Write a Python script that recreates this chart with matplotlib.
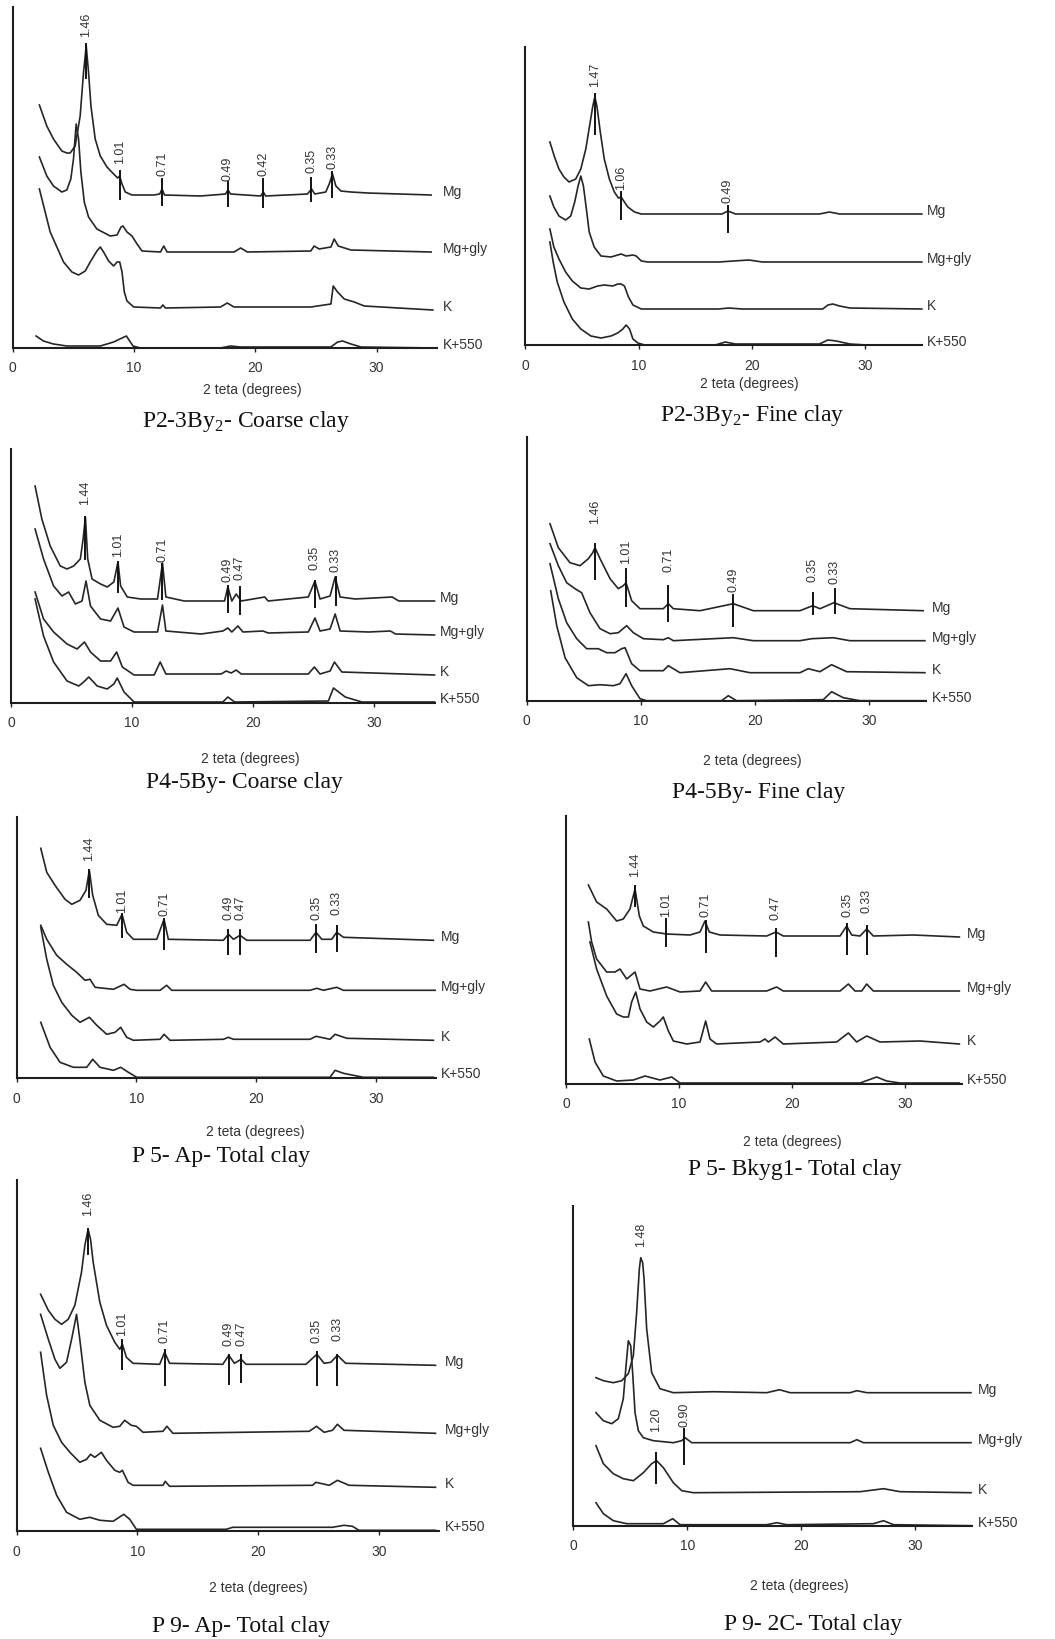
import matplotlib
matplotlib.use("Agg")
import matplotlib.pyplot as plt

plt.rcParams["font.family"] = ["Liberation Sans", "DejaVu Sans"]
plt.rcParams["mathtext.fontset"] = "custom"
plt.rcParams["mathtext.rm"] = "Liberation Serif"

W, H = 1055, 1640

# ------------------------------------------------------------
# Data: (2 theta, relative intensity)
# ------------------------------------------------------------
CURVE_NAMES = ["Mg", "Mg+gly", "K", "K+550"]

# P2-3By2 coarse clay
P1_MG = [(2.20, 243), (2.81, 222), (3.36, 209), (4.05, 197), (4.46, 195), (4.74, 195), (5.15, 202),
         (5.56, 232), (5.84, 276), (6.06, 302), (6.25, 276), (6.45, 242), (6.80, 209), (7.22, 192),
         (7.77, 181), (8.32, 174), (8.65, 170), (8.82, 172), (9.01, 164), (9.28, 156), (9.83, 153),
         (11.63, 153), (12.12, 154), (12.31, 159), (12.51, 153), (15.48, 152), (17.55, 154),
         (17.74, 158), (17.96, 154), (20.44, 152), (20.66, 156), (20.85, 152), (24.30, 154),
         (24.63, 159), (24.90, 154), (25.81, 156), (26.09, 164), (26.36, 174), (26.64, 162),
         (27.05, 157), (27.88, 156), (29.26, 155), (34.49, 153)]
P1_GLY = [(2.20, 191), (2.81, 172), (3.36, 162), (4.05, 156), (4.46, 158), (4.79, 169), (5.01, 189),
          (5.23, 224), (5.43, 209), (5.62, 176), (5.90, 146), (6.25, 131), (6.94, 119), (8.04, 112),
          (8.60, 113), (8.93, 121), (9.09, 122), (9.42, 116), (9.83, 112), (10.25, 104), (10.66, 97),
          (12.18, 96), (12.45, 102), (12.73, 96), (18.24, 96), (18.79, 100), (19.34, 96), (24.57, 97),
          (24.85, 102), (25.26, 99), (26.23, 101), (26.50, 109), (26.83, 102), (27.88, 98), (34.49, 96)]
P1_K = [(2.20, 159), (3.09, 116), (4.19, 86), (4.88, 76), (5.43, 73), (5.98, 77), (6.39, 86), (6.94, 97),
        (7.22, 101), (7.49, 96), (7.91, 87), (8.32, 82), (8.60, 86), (8.82, 86), (9.01, 76), (9.20, 56),
        (9.42, 47), (9.97, 41), (12.18, 40), (12.37, 43), (12.59, 40), (17.13, 41), (17.69, 45),
        (18.24, 41), (24.57, 41), (26.23, 44), (26.42, 62), (26.78, 56), (27.33, 49), (28.15, 46),
        (28.98, 42), (34.63, 38)]
P1_K550 = [(1.93, 12), (2.53, 7), (3.36, 4), (4.46, 2), (7.22, 2), (8.32, 6), (9.01, 10), (9.37, 12),
           (9.64, 7), (9.92, 2), (10.52, 0), (17.13, 0), (17.96, 2), (18.79, 1), (26.23, 1), (26.78, 6),
           (27.19, 7), (27.88, 4), (28.71, 1), (34.77, 0)]
# (label, 2 theta, line bottom, line top, label base)
P1_PEAKS = [("1.46", 6.06, 270, 304, 312), ("1.01", 8.82, 149, 177, 185), ("0.71", 12.31, 143, 169, 173),
            ("0.49", 17.74, 142, 166, 168), ("0.42", 20.66, 141, 169, 173), ("0.35", 24.63, 147, 170, 176),
            ("0.33", 26.36, 151, 176, 180)]

# P2-3By2 fine clay
P2_MG = [(2.17, 203), (2.58, 188), (2.97, 176), (3.41, 168), (3.86, 163), (4.45, 166), (4.90, 176),
         (5.34, 196), (5.73, 223), (5.96, 239), (6.14, 248), (6.32, 239), (6.62, 213), (6.97, 186),
         (7.42, 166), (7.86, 153), (8.22, 147), (8.46, 148), (8.69, 144), (9.05, 138), (9.64, 133),
         (10.24, 131), (17.36, 131), (17.89, 134), (18.55, 131), (25.96, 131), (26.85, 133),
         (27.74, 131), (35.0, 131)]
P2_GLY = [(2.17, 149), (2.52, 138), (2.97, 129), (3.56, 125), (4.01, 129), (4.36, 143), (4.66, 159),
          (4.90, 169), (5.13, 159), (5.37, 138), (5.64, 113), (6.08, 98), (6.68, 89), (7.57, 88),
          (8.16, 90), (8.46, 91), (8.90, 89), (9.50, 90), (9.79, 89), (10.24, 84), (10.83, 83),
          (17.06, 83), (19.73, 85), (20.92, 83), (35.0, 83)]
P2_K = [(2.17, 116), (2.52, 98), (2.97, 86), (3.56, 73), (4.15, 64), (4.90, 57), (5.64, 56), (6.38, 59),
        (6.97, 60), (7.72, 59), (8.16, 61), (8.46, 61), (8.75, 59), (9.11, 48), (9.50, 40), (10.24, 36),
        (17.06, 36), (17.95, 37), (19.14, 36), (26.26, 36), (26.71, 40), (27.15, 41), (27.74, 39),
        (28.64, 37), (35.0, 36)]
P2_K550 = [(2.17, 103), (2.46, 83), (2.82, 63), (3.41, 43), (4.15, 26), (4.90, 16), (5.79, 9), (6.68, 7),
           (7.57, 9), (8.16, 12), (8.61, 16), (8.90, 20), (9.20, 16), (9.50, 6), (9.94, 2), (10.53, 0),
           (16.77, 0), (17.66, 3), (18.55, 1), (25.96, 1), (26.71, 5), (27.45, 4), (28.64, 1),
           (30.12, 0), (35.0, 0)]
P2_PEAKS = [("1.47", 6.14, 211, 251, 259), ("1.06", 8.46, 126, 153, 156), ("0.49", 17.89, 113, 139, 143)]

# P4-5By coarse clay
P3_MG = [(1.99, 217), (2.55, 184), (3.24, 157), (4.07, 137), (4.63, 134), (5.18, 137), (5.73, 144),
         (5.96, 164), (6.15, 186), (6.34, 144), (6.70, 124), (7.40, 119), (7.95, 116), (8.50, 121),
         (8.84, 141), (9.06, 117), (9.61, 106), (10.72, 104), (12.11, 104), (12.52, 140), (12.80, 106),
         (14.32, 102), (17.65, 102), (17.92, 116), (18.25, 102), (18.61, 109), (19.03, 102),
         (20.97, 106), (21.25, 102), (24.57, 106), (25.12, 122), (25.54, 104), (26.37, 107),
         (26.79, 126), (27.20, 106), (28.45, 104), (31.50, 106), (32.05, 102), (35.0, 102)]
P3_GLY = [(1.99, 174), (2.69, 144), (3.52, 117), (4.21, 107), (4.76, 111), (5.32, 99), (5.87, 102),
          (6.20, 122), (6.57, 97), (7.40, 84), (8.23, 82), (8.84, 95), (9.34, 76), (10.17, 71),
          (12.11, 71), (12.52, 98), (12.80, 72), (15.71, 69), (17.51, 72), (17.92, 75), (18.25, 71),
          (18.75, 77), (19.17, 71), (20.83, 72), (21.25, 70), (24.57, 71), (25.12, 85), (25.54, 72),
          (26.37, 74), (26.79, 89), (27.20, 72), (29.56, 71), (31.36, 72), (31.77, 69), (35.0, 68)]
P3_K = [(1.99, 111), (2.69, 84), (3.52, 71), (4.63, 59), (5.46, 54), (6.07, 61), (6.57, 51), (7.40, 42),
        (8.23, 42), (8.73, 51), (9.20, 36), (10.17, 28), (11.83, 28), (12.33, 41), (12.80, 29),
        (17.37, 29), (17.78, 32), (18.20, 30), (18.61, 33), (19.03, 29), (24.57, 29), (25.07, 36),
        (25.54, 29), (26.37, 32), (26.73, 41), (27.34, 31), (35.0, 28)]
P3_K550 = [(1.99, 104), (2.69, 67), (3.52, 41), (4.63, 22), (5.60, 17), (6.01, 21), (6.43, 26),
           (7.12, 17), (7.95, 14), (8.50, 19), (8.78, 25), (9.34, 11), (10.17, 1), (10.72, 1),
           (17.51, 1), (17.92, 6), (18.48, 1), (26.23, 2), (26.65, 15), (27.62, 6), (29.00, 1), (35.0, 1)]
P3_PEAKS = [("1.44", 6.15, 144, 186, 199), ("1.01", 8.84, 111, 141, 147), ("0.71", 12.52, 104, 139, 142),
            ("0.49", 17.92, 91, 117, 122), ("0.47", 18.89, 89, 116, 124), ("0.35", 25.12, 96, 122, 134),
            ("0.33", 26.84, 98, 126, 132)]

# P4-5By fine clay
P4_MG = [(2.04, 177), (2.77, 153), (3.79, 138), (4.67, 135), (5.40, 142), (5.78, 148), (5.98, 153),
         (6.42, 142), (7.30, 122), (8.02, 112), (8.46, 115), (8.70, 118), (9.19, 100), (9.92, 92),
         (11.96, 92), (12.40, 97), (12.84, 92), (15.17, 90), (18.09, 97), (19.84, 90), (23.93, 90),
         (25.04, 95), (25.68, 92), (26.90, 98), (28.30, 92), (34.72, 90)]
P4_GLY = [(2.04, 157), (2.77, 135), (3.50, 118), (4.23, 112), (4.81, 108), (5.54, 88), (6.42, 72),
          (7.30, 67), (8.02, 68), (8.75, 75), (9.34, 68), (10.21, 62), (11.96, 61), (12.40, 63),
          (12.84, 60), (18.09, 63), (19.84, 60), (23.93, 60), (24.95, 62), (26.85, 63), (28.30, 60),
          (34.87, 60)]
P4_K = [(2.04, 137), (2.77, 102), (3.50, 78), (4.38, 62), (5.25, 52), (5.84, 52), (6.27, 52), (7.00, 48),
        (7.73, 48), (8.32, 52), (8.61, 53), (9.19, 37), (9.92, 30), (11.96, 30), (12.40, 35),
        (13.42, 28), (17.80, 32), (19.55, 28), (23.93, 28), (24.66, 32), (25.68, 29), (26.70, 36),
        (28.01, 29), (34.87, 28)]
P4_K550 = [(2.10, 110), (2.63, 75), (3.36, 43), (4.38, 23), (5.40, 15), (6.42, 16), (7.59, 15),
           (8.17, 17), (8.70, 27), (9.19, 15), (9.92, 2), (10.50, 0), (17.07, 0), (17.65, 5),
           (18.38, 0), (25.97, 1), (26.70, 9), (27.72, 3), (29.18, 0), (34.87, 0)]
P4_PEAKS = [("1.46", 5.98, 122, 157, 178), ("1.01", 8.70, 95, 132, 138), ("0.71", 12.40, 80, 115, 130),
            ("0.49", 18.09, 75, 106, 110), ("0.35", 25.04, 87, 108, 120), ("0.33", 26.96, 88, 112, 118)]

# P5 Ap total clay
P5_MG = [(2.01, 230), (2.51, 206), (3.20, 193), (4.04, 179), (4.60, 174), (5.29, 178), (5.79, 188),
         (6.07, 208), (6.35, 183), (6.82, 163), (7.52, 154), (8.36, 153), (8.80, 164), (9.19, 146),
         (9.75, 139), (11.70, 139), (12.31, 159), (12.67, 139), (17.27, 138), (17.69, 144),
         (18.11, 139), (18.66, 143), (19.22, 138), (24.51, 138), (25.01, 146), (25.49, 139),
         (26.32, 139), (26.74, 146), (27.30, 141), (34.82, 138)]
P5_GLY = [(2.01, 153), (2.51, 139), (3.34, 123), (4.18, 114), (5.01, 106), (5.71, 98), (6.13, 99),
          (6.55, 91), (8.08, 89), (8.97, 94), (9.47, 89), (10.03, 88), (11.98, 88), (12.53, 93),
          (12.95, 88), (24.51, 88), (25.07, 90), (25.63, 88), (26.74, 91), (27.30, 88), (34.96, 88)]
P5_K = [(2.01, 151), (2.51, 119), (3.06, 93), (3.76, 76), (4.60, 63), (5.29, 56), (6.07, 61), (6.69, 53),
        (7.52, 44), (8.22, 46), (8.69, 51), (9.19, 41), (9.75, 38), (11.98, 39), (12.31, 44),
        (12.81, 38), (17.27, 39), (17.69, 41), (18.11, 39), (24.51, 39), (25.01, 42), (26.18, 39),
        (26.60, 44), (27.58, 40), (34.82, 38)]
P5_K550 = [(2.01, 56), (2.79, 31), (3.62, 16), (4.74, 11), (5.85, 11), (6.35, 19), (6.96, 11), (8.08, 8),
           (8.69, 11), (9.33, 6), (10.03, 1), (26.18, 1), (26.60, 8), (27.30, 5), (28.13, 3),
           (28.97, 1), (34.82, 1)]
P5_PEAKS = [("1.44", 6.07, 181, 208, 218), ("1.01", 8.83, 141, 164, 166), ("0.71", 12.34, 129, 159, 163),
            ("0.49", 17.69, 124, 148, 159), ("0.47", 18.66, 124, 148, 159), ("0.35", 25.01, 126, 153, 159),
            ("0.33", 26.74, 127, 152, 164)]

# P5 Bkyg1 total clay
P6_MG = [(1.98, 199), (2.71, 182), (3.60, 175), (4.48, 163), (5.07, 165), (5.66, 175), (6.11, 195),
         (6.49, 168), (6.84, 158), (7.73, 152), (8.91, 150), (10.97, 149), (11.86, 152), (12.30, 163),
         (12.68, 152), (13.63, 149), (17.76, 148), (18.58, 152), (19.23, 148), (24.25, 148),
         (24.84, 158), (25.28, 149), (26.02, 148), (26.61, 155), (27.20, 148), (30.74, 149),
         (34.81, 147)]
P6_GLY = [(1.98, 162), (2.27, 142), (2.71, 125), (3.60, 112), (4.34, 112), (4.78, 115), (5.37, 105),
          (6.11, 112), (6.55, 95), (7.43, 93), (8.91, 97), (10.09, 92), (11.86, 93), (12.36, 102),
          (12.89, 93), (17.76, 93), (18.64, 97), (19.23, 93), (24.25, 93), (24.99, 100), (25.58, 93),
          (26.17, 93), (26.61, 100), (27.20, 93), (34.81, 93)]
P6_K = [(2.12, 142), (2.71, 115), (3.60, 88), (4.48, 70), (5.07, 67), (5.52, 67), (5.81, 82), (6.17, 92),
        (6.55, 75), (7.14, 62), (7.73, 57), (8.32, 63), (8.61, 67), (9.06, 53), (9.50, 43), (10.68, 40),
        (11.86, 42), (12.36, 63), (12.74, 45), (13.33, 40), (17.17, 42), (17.61, 45), (17.91, 42),
        (18.50, 47), (19.23, 40), (23.95, 42), (24.99, 51), (25.72, 42), (26.61, 48), (27.79, 42),
        (31.33, 43), (34.81, 40)]
P6_K550 = [(2.06, 45), (2.57, 22), (3.30, 8), (4.48, 3), (5.96, 4), (6.99, 8), (8.32, 4), (9.35, 7),
           (10.09, 1), (26.02, 1), (27.49, 7), (28.38, 3), (29.56, 1), (34.81, 1)]
P6_PEAKS = [("1.44", 6.11, 178, 198, 208), ("1.01", 8.82, 138, 165, 168), ("0.71", 12.36, 132, 163, 168),
            ("0.47", 18.58, 128, 155, 165), ("0.35", 24.90, 130, 160, 168), ("0.33", 26.61, 130, 158, 172)]

# P9 Ap total clay
P7_MG = [(1.98, 237), (2.62, 221), (3.17, 212), (3.72, 207), (4.27, 212), (4.82, 226), (5.37, 259),
         (5.65, 286), (5.92, 302), (6.12, 292), (6.34, 269), (6.89, 229), (7.44, 206), (8.13, 189),
         (8.54, 182), (8.76, 187), (9.09, 174), (9.64, 168), (11.85, 167), (12.26, 179), (12.67, 168),
         (17.08, 167), (17.58, 176), (18.04, 168), (18.60, 172), (19.01, 167), (23.97, 167),
         (24.88, 177), (25.48, 168), (26.03, 169), (26.58, 176), (27.27, 168), (34.71, 166)]
P7_GLY = [(1.98, 217), (2.62, 192), (3.17, 172), (3.58, 163), (4.13, 169), (4.55, 192), (4.96, 217),
          (5.23, 192), (5.65, 149), (6.06, 126), (6.89, 111), (7.99, 104), (8.54, 105), (8.95, 111),
          (9.50, 106), (9.92, 105), (10.47, 99), (12.12, 100), (12.45, 105), (12.95, 98), (24.24, 100),
          (24.85, 105), (25.48, 99), (26.17, 101), (26.58, 107), (27.13, 101), (34.71, 98)]
P7_K = [(1.98, 179), (2.48, 136), (3.03, 106), (3.72, 89), (4.41, 79), (5.23, 69), (5.79, 72), (6.12, 77),
        (6.47, 74), (7.02, 79), (7.44, 71), (8.13, 61), (8.54, 59), (8.76, 61), (9.23, 49), (9.64, 46),
        (12.12, 46), (12.31, 50), (12.67, 45), (24.52, 46), (24.79, 49), (25.90, 46), (26.58, 51),
        (27.55, 46), (34.71, 44)]
P7_K550 = [(1.98, 83), (2.62, 59), (3.31, 36), (4.13, 19), (5.23, 12), (6.06, 14), (6.89, 11), (7.99, 10),
           (8.87, 17), (9.37, 12), (9.92, 2), (17.36, 2), (17.91, 4), (26.17, 4), (27.13, 6),
           (27.82, 5), (28.37, 1), (34.71, 1)]
P7_PEAKS = [("1.46", 5.92, 277, 302, 316), ("1.01", 8.76, 162, 191, 196), ("0.71", 12.26, 146, 181, 189),
            ("0.49", 17.58, 147, 176, 186), ("0.47", 18.60, 149, 176, 186), ("0.35", 24.88, 146, 179, 189),
            ("0.33", 26.58, 146, 176, 191)]

# P9 2C total clay
P8_MG = [(1.99, 148), (2.64, 145), (3.51, 143), (4.25, 145), (4.83, 152), (5.27, 170), (5.56, 213),
         (5.80, 257), (5.92, 268), (6.09, 263), (6.21, 247), (6.44, 197), (6.88, 153), (7.61, 137),
         (8.78, 133), (12.30, 134), (16.98, 133), (18.10, 136), (19.03, 133), (24.30, 133),
         (24.89, 135), (25.77, 133), (34.91, 133)]
P8_GLY = [(1.99, 113), (2.64, 105), (3.37, 102), (3.95, 107), (4.39, 127), (4.63, 160), (4.83, 185),
          (5.04, 180), (5.21, 153), (5.42, 113), (5.71, 95), (6.15, 88), (7.03, 85), (8.78, 83),
          (9.52, 85), (9.81, 88), (10.40, 83), (24.30, 83), (24.89, 86), (25.48, 83), (34.91, 83)]
P8_K = [(1.99, 80), (2.64, 62), (3.51, 52), (4.39, 47), (5.27, 45), (6.15, 53), (6.88, 62), (7.32, 65),
        (7.91, 58), (8.78, 43), (9.52, 35), (10.54, 33), (25.18, 34), (27.23, 37), (28.70, 34),
        (34.91, 33)]
P8_K550 = [(1.99, 23), (2.64, 12), (3.51, 5), (4.69, 2), (7.91, 2), (8.73, 7), (9.37, 1), (16.98, 1),
           (17.86, 3), (18.74, 1), (26.35, 2), (27.23, 5), (28.11, 1), (34.91, 0)]
P8_PEAKS = [("1.48", 5.92, 276, 276, 280), ("1.20", 7.26, 43, 73, 95), ("0.90", 9.75, 62, 97, 100)]

CAPTIONS = [
    r"P2-3By$_{\mathrm{2}}$- Coarse clay",
    r"P2-3By$_{\mathrm{2}}$- Fine clay",
    "P4-5By- Coarse clay",
    "P4-5By- Fine clay",
    "P 5- Ap- Total clay",
    "P 5- Bkyg1- Total clay",
    "P 9- Ap- Total clay",
    "P 9- 2C- Total clay",
]

# ------------------------------------------------------------
# Layout in reference pixels:
# x of 0 deg, x of 35 deg, axis top, baseline, xlabel (x, y), caption (x, y)
# ------------------------------------------------------------
LAYOUT = [
    (12.7, 437.3, 8, 349, (252, 390), (246, 421)),
    (525.3, 921.8, 48, 346, (749, 384), (752, 416)),
    (11.0, 434.5, 450, 704, (250, 759), (244, 783)),
    (526.7, 926.4, 438, 701.7, (752, 761), (759, 793)),
    (16.7, 435.6, 818, 1079.3, (255, 1132), (221, 1157)),
    (566.0, 961.5, 816.7, 1085, (792, 1142), (795, 1170)),
    (16.7, 439.0, 1181, 1532.3, (258, 1588), (241, 1627)),
    (573.3, 972.0, 1206.7, 1526.7, (799, 1586), (813, 1625)),
]

PANELS = [
    ([P1_MG, P1_GLY, P1_K, P1_K550], P1_PEAKS),
    ([P2_MG, P2_GLY, P2_K, P2_K550], P2_PEAKS),
    ([P3_MG, P3_GLY, P3_K, P3_K550], P3_PEAKS),
    ([P4_MG, P4_GLY, P4_K, P4_K550], P4_PEAKS),
    ([P5_MG, P5_GLY, P5_K, P5_K550], P5_PEAKS),
    ([P6_MG, P6_GLY, P6_K, P6_K550], P6_PEAKS),
    ([P7_MG, P7_GLY, P7_K, P7_K550], P7_PEAKS),
    ([P8_MG, P8_GLY, P8_K, P8_K550], P8_PEAKS),
]

LINE = "#262626"
TEXT = "#333333"


def fig_xy(x, y):
    return x / W, 1 - y / H


fig = plt.figure(figsize=(W / 100, H / 100), dpi=100)

for (curves, peaks), lay, caption in zip(PANELS, LAYOUT, CAPTIONS):
    x0, x1, top, base, xlab, cap = lay
    ax = fig.add_axes([x0 / W, 1 - base / H, (x1 - x0) / W, (base - top) / H])
    ax.set_xlim(0, 35)
    ax.set_ylim(0, base - top)
    ax.patch.set_visible(False)

    for s in ("top", "right"):
        ax.spines[s].set_visible(False)
    for s in ("left", "bottom"):
        ax.spines[s].set_linewidth(1.5)
        ax.spines[s].set_color("#1e1e1e")
    ax.set_yticks([])
    ax.set_xticks([0, 10, 20, 30])
    ax.tick_params(axis="x", direction="out", length=3, width=1, pad=6,
                   labelsize=10, colors="#222222", labelcolor=TEXT)

    for name, pts in zip(CURVE_NAMES, curves):
        xs = [p[0] for p in pts]
        ys = [p[1] for p in pts]
        ax.plot(xs, ys, color=LINE, lw=1.2, clip_on=False, solid_joinstyle="round")
        ax.annotate(name, xy=(1, ys[-1]), xycoords=("axes fraction", "data"),
                    xytext=(4, 3), textcoords="offset points",
                    ha="left", va="center", fontsize=10, color=TEXT)

    for lab, x, lo, hi, ytxt in peaks:
        if hi > lo:
            ax.plot([x, x], [lo, hi], color="#111111", lw=1.4, clip_on=False)
        ax.text(x, ytxt, lab, rotation=90, ha="center", va="bottom",
                fontsize=9, color=TEXT)

    fx, fy = fig_xy(*xlab)
    fig.text(fx, fy, "2 teta (degrees)", ha="center", va="center", fontsize=10, color=TEXT)
    cx, cy = fig_xy(*cap)
    fig.text(cx, cy, caption, ha="center", va="center", fontsize=17,
             family="Liberation Serif", color="#111111")

fig.savefig("out.png", dpi=100)
plt.close(fig)
